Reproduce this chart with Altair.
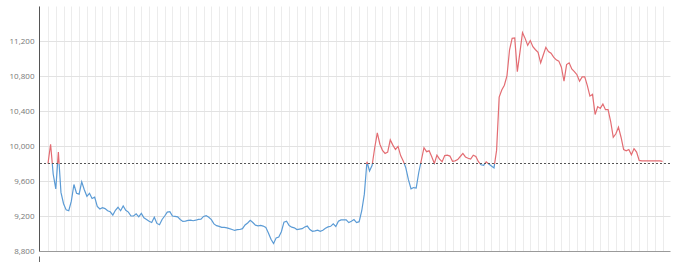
import altair as alt
import pandas as pd

# Series values (one every third of a vertical grid step)
values = [
    9800, 10020, 9680, 9510, 9930, 9470, 9340, 9270, 9260, 9370,
    9560, 9460, 9450, 9590, 9500, 9425, 9460, 9400, 9415, 9310,
    9280, 9295, 9285, 9260, 9248, 9210, 9265, 9300, 9260, 9315,
    9265, 9245, 9200, 9200, 9225, 9190, 9230, 9180, 9160, 9140,
    9125, 9185, 9115, 9100, 9160, 9200, 9245, 9250, 9200, 9195,
    9190, 9160, 9138, 9142, 9150, 9152, 9146, 9152, 9162, 9165,
    9195, 9205, 9185, 9158, 9110, 9090, 9082, 9070, 9070, 9065,
    9055, 9046, 9035, 9044, 9046, 9055, 9097, 9120, 9150, 9125,
    9095, 9088, 9092, 9085, 9070, 9005, 8935, 8885, 8950, 8960,
    9020, 9130, 9140, 9090, 9072, 9065, 9045, 9050, 9055, 9075,
    9085, 9045, 9025, 9030, 9038, 9025, 9038, 9060, 9075, 9082,
    9110, 9080, 9140, 9155, 9155, 9155, 9125, 9140, 9160, 9125,
    9135, 9260, 9450, 9820, 9715, 9780, 9980, 10150, 10020, 9950,
    9915, 9930, 10070, 10010, 9960, 9995, 9890, 9830, 9750, 9615,
    9510, 9525, 9520, 9700, 9840, 9980, 9935, 9945, 9878, 9800,
    9895, 9850, 9820, 9890, 9895, 9885, 9825, 9830, 9845, 9880,
    9915, 9875, 9860, 9850, 9895, 9880, 9820, 9785, 9780, 9820,
    9795, 9772, 9750, 9950, 10560, 10640, 10695, 10800, 11100, 11230,
    11235, 10850, 11070, 11295, 11230, 11150, 11205, 11135, 11100, 11070,
    10950, 11040, 11128, 11080, 11060, 11015, 10985, 10970, 10900, 10740,
    10930, 10950, 10880, 10850, 10815, 10740, 10790, 10790, 10690, 10570,
    10590, 10360, 10450, 10430, 10480, 10415, 10415, 10280, 10100, 10140,
    10215, 10100, 9960, 9945, 9960, 9900, 9970, 9930, 9835, 9830,
    9830, 9830, 9830, 9830, 9830, 9830, 9830, 9825,
]
baseline = 9800
y_ticks = [8800, 9200, 9600, 10000, 10400, 10800, 11200]
steps_per_grid = 3

n = len(values)
df = pd.DataFrame({"i": list(range(n)), "v": values})
base_df = pd.DataFrame({"b": [baseline]})

RED = "#e36c72"
BLUE = "#5b9bd5"

vmax, vmin = max(values), min(values)
t = (vmax - baseline) / (vmax - vmin)

x_min, x_max = -3.47, 239.88
x_scale = alt.Scale(domain=[x_min, x_max], nice=False, zero=False)
y_scale = alt.Scale(domain=[8800, 11600], nice=False, zero=False)

grid_values = [x_min] + list(range(0, n, steps_per_grid))

x_axis = alt.Axis(
    values=grid_values,
    grid=True,
    gridColor="#ececec",
    gridWidth=1,
    labels=False,
    domain=False,
    ticks=True,
    tickSize=6,
    tickColor="#666666",
    tickOpacity={"condition": {"test": "datum.value < 0", "value": 1}, "value": 0},
    offset=5,
    title=None,
)

y_axis = alt.Axis(
    values=y_ticks,
    format=",d",
    grid=True,
    gridColor={"condition": {"test": "datum.value == 8800", "value": "#9a9a9a"}, "value": "#e2e2e2"},
    gridWidth=1,
    ticks=False,
    domain=True,
    domainColor="#555555",
    domainWidth=1,
    labelColor="#777777",
    labelFont="Open Sans",
    labelFontSize=8,
    labelPadding=5,
    title=None,
)

gradient = alt.Gradient(
    gradient="linear",
    x1=0, x2=0, y1=0, y2=1,
    stops=[
        alt.GradientStop(color=RED, offset=0),
        alt.GradientStop(color=RED, offset=t),
        alt.GradientStop(color=BLUE, offset=t),
        alt.GradientStop(color=BLUE, offset=1),
    ],
)

line = alt.Chart(df).mark_line(stroke=gradient, strokeWidth=1.2).encode(
    x=alt.X("i:Q", scale=x_scale, axis=x_axis),
    y=alt.Y("v:Q", scale=y_scale, axis=y_axis),
)

rule = alt.Chart(base_df).mark_rule(color="#555555", strokeDash=[2, 2], strokeWidth=1.2).encode(
    y=alt.Y("b:Q", scale=y_scale, axis=y_axis),
)

chart = alt.layer(line, rule).properties(
    width=631,
    height=245,
    autosize=alt.AutoSizeParams(type="none"),
    padding={"left": 39, "top": 6, "right": 10, "bottom": 11},
).configure_view(stroke=None)

chart.save("out.html", embed_options={"renderer": "svg", "actions": False})
